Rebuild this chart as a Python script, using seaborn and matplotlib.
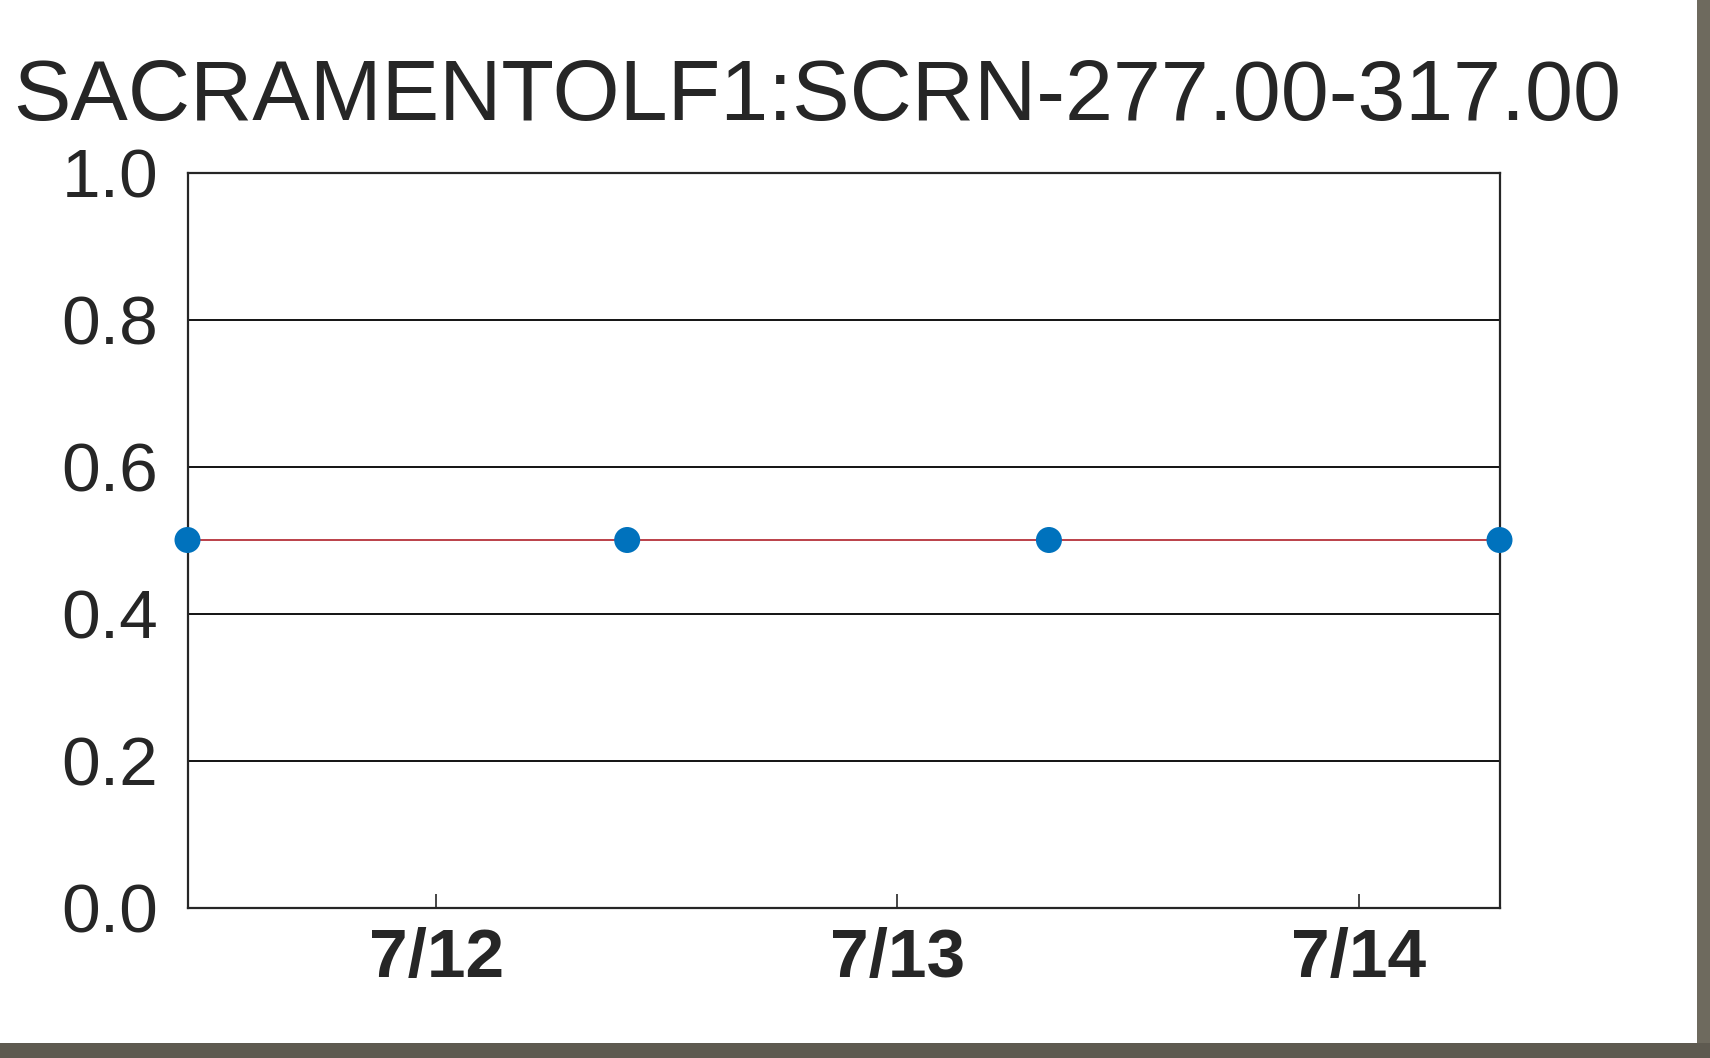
import matplotlib
matplotlib.use("Agg")
import matplotlib.pyplot as plt
import matplotlib.dates as mdates
from matplotlib.patches import Rectangle
import seaborn as sns
import pandas as pd
import numpy as np

# ---- data ----
title_text = "SACRAMENTOLF1:SCRN-277.00-317.00"
times = ["2021-07-11 11:03", "2021-07-12 09:56", "2021-07-13 07:53", "2021-07-14 07:20"]
values = [0.5, 0.5, 0.5, 0.5]
x_ticks = ["2021-07-12", "2021-07-13", "2021-07-14"]
x_tick_labels = ["7/12", "7/13", "7/14"]
y_ticks = [0.0, 0.2, 0.4, 0.6, 0.8, 1.0]

df = pd.DataFrame({"time": pd.to_datetime(times), "value": values})

sns.set_theme(style="white")
plt.rcParams["font.family"] = ["Liberation Sans", "DejaVu Sans"]

W, H = 1710, 1058
fig = plt.figure(figsize=(W / 100, H / 100), dpi=100)
fig.patch.set_facecolor("white")

L, R, T, B = 187.5, 1499.5, 172.5, 907.5
ax = fig.add_axes([L / W, 1 - B / H, (R - L) / W, (B - T) / H])

sns.lineplot(data=df, x="time", y="value", ax=ax, color="#b5323a", linewidth=1.3, zorder=3)
sns.scatterplot(data=df, x="time", y="value", ax=ax, color="#0072BD", s=26 ** 2 * 0.72 ** 2,
                edgecolor="none", zorder=4, clip_on=False)

ax.set_xlim(df["time"].iloc[0], df["time"].iloc[-1])
ax.set_ylim(0, 1)
ax.set_yticks(y_ticks)
ax.set_yticklabels([f"{v:.1f}" for v in y_ticks], fontsize=50, color="#262626")
ax.set_xticks(pd.to_datetime(x_ticks))
ax.set_xticklabels(x_tick_labels, fontsize=50, fontweight="bold", color="#262626")
ax.set_xlabel("")
ax.set_ylabel("")

for v in y_ticks[1:-1]:
    ax.axhline(v, color="black", linewidth=1.3, zorder=1)

for s in ax.spines.values():
    s.set_color("#262626")
    s.set_linewidth(1.6)
    s.set_visible(True)

ax.tick_params(axis="x", direction="in", length=10, width=1.2, color="#262626", pad=14, bottom=True)
ax.tick_params(axis="y", length=0, pad=21)

fig.text(13 / W, 1 - 120 / H, title_text, fontsize=62, color="#262626", ha="left", va="baseline")

# screenshot border strips
fig.patches.append(Rectangle((1697 / W, 0), 1 - 1697 / W, 1, transform=fig.transFigure,
                             facecolor="#6e6a5e", edgecolor="none", zorder=0))
fig.patches.append(Rectangle((0, 0), 1, 15 / H, transform=fig.transFigure,
                             facecolor="#5e5a50", edgecolor="none", zorder=0))

fig.savefig("out.png", dpi=100)
